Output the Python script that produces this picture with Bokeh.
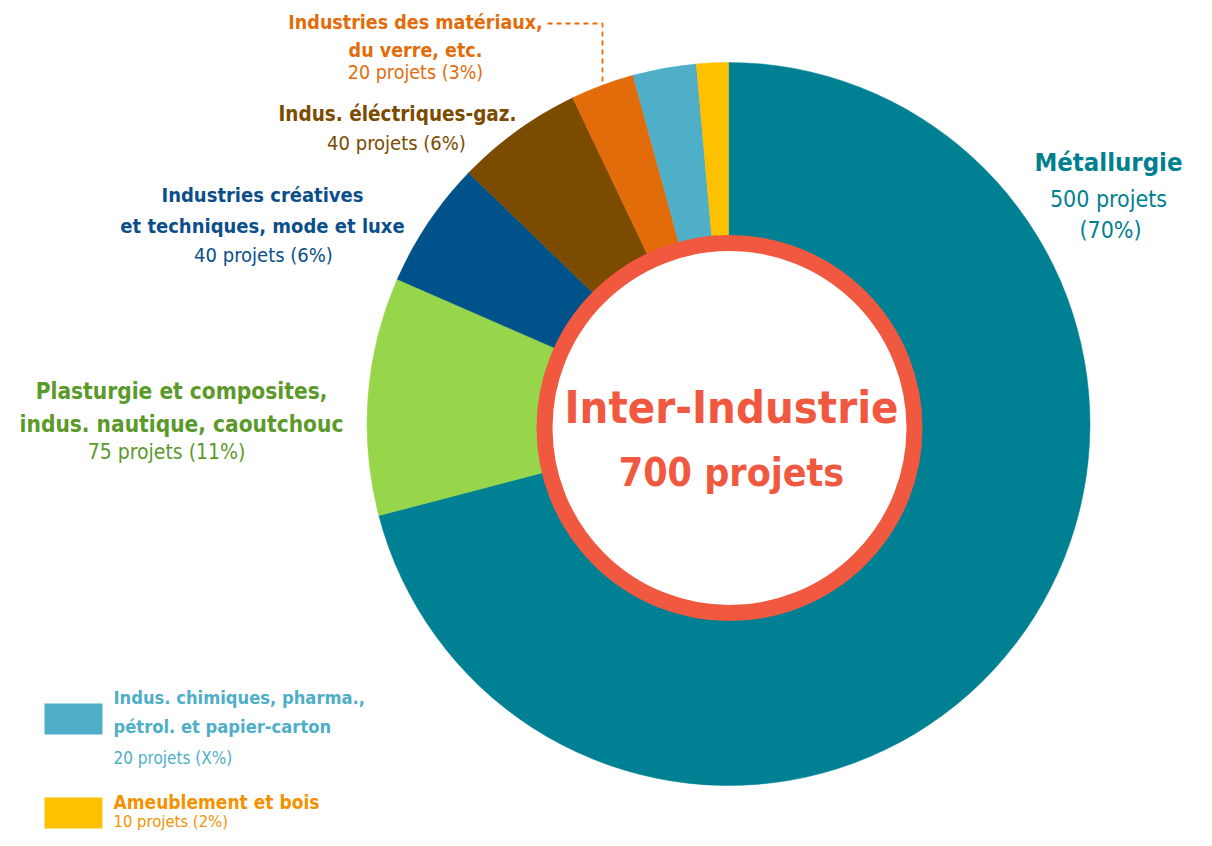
import math
from bokeh.plotting import figure
from bokeh.models import Range1d
from bokeh.core.properties import value
from bokeh.embed import file_html
from bokeh.resources import INLINE

# ---------------- data ----------------
categories = ["Métallurgie", "Plasturgie et composites, indus. nautique, caoutchouc",
              "Industries créatives et techniques, mode et luxe",
              "Indus. éléctriques-gaz.", "Industries des matériaux, du verre, etc.",
              "Indus. chimiques, pharma., pétrol. et papier-carton", "Ameublement et bois"]
projects = [500, 75, 40, 40, 20, 20, 10]
percent_labels = ["70%", "11%", "6%", "6%", "3%", "X%", "2%"]
slice_colors = ["#008093", "#97D54B", "#00538A", "#7B4B00", "#E36C0A", "#4FAEC8", "#FFC000"]
text_colors = ["#00808F", "#5B9A2A", "#0B4F8A", "#7B4B00", "#E36C0A", "#4FAEC8", "#F39200"]
total_label = "700 projets"
center_title = "Inter-Industrie"

# ---------------- layout ----------------
W, H = 1196, 830
FONT = "DejaVu Sans Condensed, Roboto, sans-serif"
SHIFT = 0.4   # baseline correction (fraction of font size)

def Y(s):
    return H - s

p = figure(width=W, height=H, output_backend="svg", toolbar_location=None,
           x_range=Range1d(0, W), y_range=Range1d(0, H),
           min_border=0, outline_line_color=None, background_fill_color="white")
p.axis.visible = False
p.grid.visible = False

CX, CY, R = 728, Y(423.5), 361.5
total = sum(projects)
starts, ends = [], []
cum = 0
for v in projects:
    starts.append(math.pi / 2 - cum / total * 2 * math.pi)
    cum += v
    ends.append(math.pi / 2 - cum / total * 2 * math.pi)

p.wedge(x=[CX] * len(projects), y=[CY] * len(projects), radius=R,
        start_angle=starts, end_angle=ends, direction="clock",
        fill_color=slice_colors, line_color=slice_colors, line_width=0.5)

# inner ring
p.scatter(x=[729], y=[Y(427.5)], size=2 * 185, marker="circle",
          fill_color="white", line_color="#F0583F", line_width=16)

def label(x, y, s, color, size, bold, align="center"):
    p.text(x=[x], y=[Y(y - SHIFT * size)], text=[s], text_font=value(FONT),
           text_font_style="bold" if bold else "normal", text_font_size=f"{size}px",
           text_color=color, text_align=align, text_baseline="alphabetic")

def proj(i):
    return f"{projects[i]} projets ({percent_labels[i]})"

label(731, 425, center_title, "#F0583F", 45, True)
label(731, 488, total_label, "#F0583F", 39, True)

# Métallurgie
label(1108, 172, categories[0], text_colors[0], 25.5, True)
label(1108, 208, f"{projects[0]} projets", text_colors[0], 23, False)
label(1110, 239, f"({percent_labels[0]})", text_colors[0], 23, False)

# Plasturgie
label(181, 399, "Plasturgie et composites,", text_colors[1], 22.5, True)
label(181, 432, "indus. nautique, caoutchouc", text_colors[1], 22.5, True)
label(166, 460, proj(1), text_colors[1], 21, False)

# Créatives
label(262, 202, "Industries créatives", text_colors[2], 20, True)
label(262, 233, "et techniques, mode et luxe", text_colors[2], 20, True)
label(263, 262, proj(2), text_colors[2], 20, False)

# Électriques
label(397, 122, categories[3], text_colors[3], 20.5, True)
label(396, 150, proj(3), text_colors[3], 20, False)

# Matériaux
label(415, 30, "Industries des matériaux,", text_colors[4], 19.5, True)
label(415, 58, "du verre, etc.", text_colors[4], 19.5, True)
label(415, 80, proj(4), text_colors[4], 19.5, False)
p.line(x=[547, 602, 602], y=[Y(23), Y(23), Y(84)], line_color=text_colors[4],
       line_width=1.8, line_dash="5 4")

# legend (small slices)
legend_idx = [5, 6]
sw_top = [703, 797]
p.quad(left=[44, 44], right=[102, 102], top=[Y(t) for t in sw_top],
       bottom=[Y(t + 31) for t in sw_top],
       fill_color=[slice_colors[i] for i in legend_idx], line_color=None)
label(113, 704, "Indus. chimiques, pharma.,", text_colors[5], 18.2, True, "left")
label(113, 733, "pétrol. et papier-carton", text_colors[5], 18.2, True, "left")
label(113, 764, proj(5), text_colors[5], 17, False, "left")
label(113, 809, categories[6], text_colors[6], 19, True, "left")
label(113, 828, proj(6), text_colors[6], 16.5, False, "left")

open("out.html", "w").write(file_html(p, INLINE))
